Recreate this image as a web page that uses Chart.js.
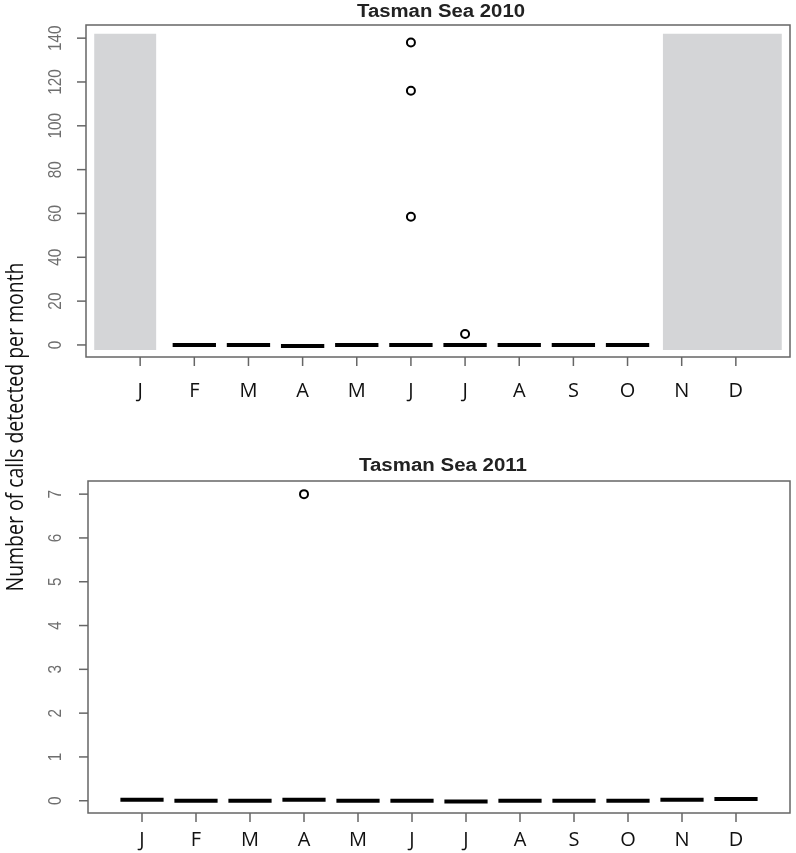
<!DOCTYPE html>
<html>
<head>
<meta charset="utf-8">
<script src="https://cdn.jsdelivr.net/npm/chart.js@4.4.1/dist/chart.umd.min.js"></script>
<style>
  html, body { margin: 0; padding: 0; background: #fff; }
  #wrap { position: relative; width: 796px; height: 853px; }
  #wrap canvas { position: absolute; left: 0; top: 0; }
</style>
</head>
<body>
<div id="wrap">
  <canvas id="chart2010" width="796" height="853"></canvas>
  <canvas id="chart2011" width="796" height="853"></canvas>
</div>
<script>
// month labels along the bottom of both panels
const months = ['J', 'F', 'M', 'A', 'M', 'J', 'J', 'A', 'S', 'O', 'N', 'D'];

// Tasman Sea 2010 - medians (null = no recordings) and outliers per month
const median2010 = [null, 0, 0, -0.5, 0, 0, 0, 0, 0, 0, null, null];
const outliers2010 = [[], [], [], [], [], [138, 116, 58.5], [5], [], [], [], [], []];
// months without recordings, shaded (in month units of the x axis)
const noData2010 = [[0.15, 1.3], [10.65, 12.85]];
const yTicks2010 = [0, 20, 40, 60, 80, 100, 120, 140];

// Tasman Sea 2011
const median2011 = [0.02, 0, 0, 0.02, 0, 0, -0.02, 0, 0, 0, 0.02, 0.04];
const outliers2011 = [[], [], [], [7], [], [], [], [], [], [], [], []];
const yTicks2011 = [0, 1, 2, 3, 4, 5, 6, 7];

const BOX_HALF = 0.4;
const AXIS_COLOR = '#666';

function drawText(ctx, text, x, y, font, color, rot, sx, fitWidth) {
    ctx.save();
    ctx.font = font;
    if (fitWidth) sx = fitWidth / ctx.measureText(text).width;
    ctx.translate(x, y);
    ctx.rotate(rot || 0);
    ctx.scale(sx || 1, 1);
    ctx.fillStyle = color;
    ctx.textAlign = 'center';
    ctx.textBaseline = 'middle';
    ctx.fillText(text, 0, 0);
    ctx.restore();
}

// R-style frame: box, ticks hanging outside, rotated y labels, title
const rFrame = {
    id: 'rFrame',
    afterDraw(chart, args, opts) {
        const ctx = chart.ctx;
        const a = chart.chartArea;
        const xs = chart.scales.x, ys = chart.scales.y;
        ctx.save();
        ctx.strokeStyle = AXIS_COLOR;
        ctx.lineWidth = 1.5;
        ctx.strokeRect(a.left, a.top, a.right - a.left, a.bottom - a.top);

        months.forEach((m, i) => {
            const px = xs.getPixelForValue(i + 1);
            ctx.beginPath();
            ctx.moveTo(px, a.bottom);
            ctx.lineTo(px, a.bottom + 9);
            ctx.stroke();
            drawText(ctx, m, px, a.bottom + opts.xLabelGap, '20px "Open Sans"', '#111', 0, 1);
        });

        opts.yTicks.forEach(v => {
            const py = ys.getPixelForValue(v);
            ctx.beginPath();
            ctx.moveTo(a.left - 9, py);
            ctx.lineTo(a.left, py);
            ctx.stroke();
            drawText(ctx, String(v), 56, py, '18px "Liberation Sans"', '#6e6e6e', -Math.PI / 2, 0.85);
        });
        ctx.restore();

        drawText(ctx, opts.title, opts.titleX, opts.titleY, 'bold 18px "Liberation Sans"', '#222', 0, 1, opts.titleWidth);

        if (opts.yTitle) {
            drawText(ctx, opts.yTitle, 16, 427, '24px "Open Sans"', '#111', -Math.PI / 2, 1, 329);
        }
    }
};

function medianSegments(medians) {
    const pts = [];
    medians.forEach((m, i) => {
        if (m === null) return;
        pts.push({ x: i + 1 - BOX_HALF, y: m }, { x: i + 1 + BOX_HALF, y: m }, { x: i + 1.5, y: null });
    });
    return pts;
}

function outlierPoints(outliers) {
    const pts = [];
    outliers.forEach((list, i) => list.forEach(v => pts.push({ x: i + 1, y: v })));
    return pts;
}

function shadeDatasets(spans, top, bottom) {
    return spans.map(s => ({
        type: 'line',
        data: [{ x: s[0], y: top }, { x: s[1], y: top }],
        fill: { value: bottom },
        backgroundColor: '#d4d5d7',
        borderWidth: 0,
        pointRadius: 0,
        order: 3
    }));
}

function makeChart(id, cfg) {
    const datasets = shadeDatasets(cfg.noData, cfg.shadeTop, cfg.shadeBottom).concat([
        {
            type: 'line',
            data: medianSegments(cfg.medians),
            borderColor: '#000',
            borderWidth: 4,
            borderCapStyle: 'butt',
            pointRadius: 0,
            fill: false,
            spanGaps: false,
            order: 2
        },
        {
            type: 'line',
            data: outlierPoints(cfg.outliers),
            showLine: false,
            pointRadius: 4,
            pointBorderWidth: 2,
            pointBorderColor: '#000',
            pointBackgroundColor: 'rgba(0,0,0,0)',
            order: 1
        }
    ]);

    return new Chart(document.getElementById(id), {
        type: 'line',
        data: { datasets: datasets },
        options: {
            responsive: false,
            animation: false,
            events: [],
            layout: { padding: cfg.padding },
            scales: {
                x: { type: 'linear', min: 0, max: 13, display: false },
                y: { type: 'linear', min: cfg.yMin, max: cfg.yMax, display: false }
            },
            plugins: {
                legend: { display: false },
                tooltip: { enabled: false },
                rFrame: cfg.frame
            }
        },
        plugins: [rFrame]
    });
}

makeChart('chart2010', {
    medians: median2010,
    outliers: outliers2010,
    noData: noData2010,
    shadeTop: 142,
    shadeBottom: -2.3,
    yMin: -5.5,
    yMax: 146,
    padding: { left: 86, top: 25, right: 6, bottom: 496 },
    frame: {
        title: 'Tasman Sea 2010', titleX: 441, titleY: 12, titleWidth: 168,
        yTicks: yTicks2010, xLabelGap: 34,
        yTitle: 'Number of calls detected per month'
    }
});

makeChart('chart2011', {
    medians: median2011,
    outliers: outliers2011,
    noData: [],
    shadeTop: 0,
    shadeBottom: 0,
    yMin: -0.28,
    yMax: 7.3,
    padding: { left: 88, top: 481, right: 5, bottom: 40 },
    frame: {
        title: 'Tasman Sea 2011', titleX: 443, titleY: 466, titleWidth: 168,
        yTicks: yTicks2011, xLabelGap: 27
    }
});
</script>
</body>
</html>
